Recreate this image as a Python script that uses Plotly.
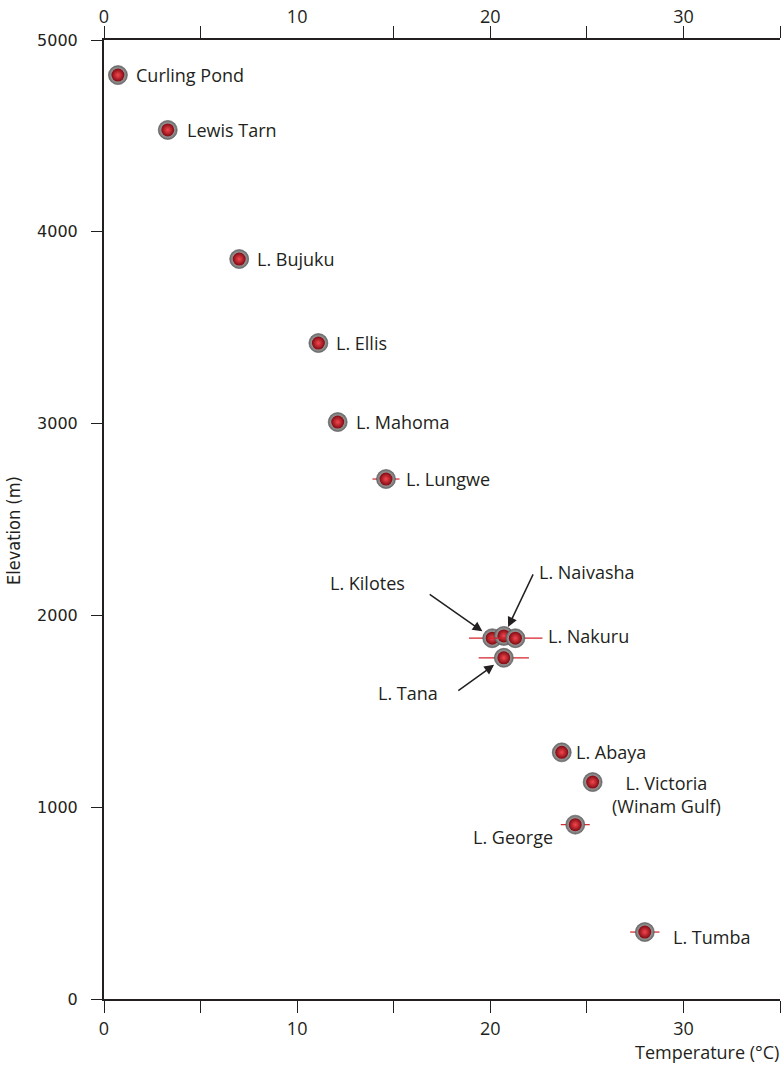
import plotly.graph_objects as go

# Lake surface temperature vs. elevation
lakes = ["Curling Pond", "Lewis Tarn", "L. Bujuku", "L. Ellis", "L. Mahoma",
         "L. Lungwe", "L. Kilotes", "L. Naivasha", "L. Nakuru", "L. Tana",
         "L. Abaya", "L. Victoria<br>(Winam Gulf)", "L. George", "L. Tumba"]
temperature = [0.72, 3.3, 7.0, 11.1, 12.1, 14.6, 20.1, 20.7, 21.3, 20.7,
               23.7, 25.3, 24.4, 28.0]
elevation = [4817, 4531, 3858, 3420, 3008, 2711, 1881, 1893, 1881, 1779,
             1286, 1131, 909, 349]
temp_err = [0, 0, 0, 0, 0, 0.7, 1.2, 0, 1.4, 1.3, 0, 0, 0.75, 0.76]

x_ticks = [0, 5, 10, 15, 20, 25, 30, 35]
x_labels = ["0", "", "10", "", "20", "", "30", ""]
top_label_ticks = [0, 10, 20, 30]
top_mark_ticks = [0, 5, 15, 20, 25, 30, 35]
y_ticks = [0, 1000, 2000, 3000, 4000, 5000]

INK = "#231f20"
RED_LINE = "#d2232a"
LABEL_FONT = dict(family="Open Sans, Noto Sans, sans-serif", size=18, color=INK)

# label placement relative to each dot: (dx px, dy px downward, anchor)
label_offsets = {
    "Curling Pond": (16, 0, "left"),
    "Lewis Tarn": (17, 0, "left"),
    "L. Bujuku": (16, 0, "left"),
    "L. Ellis": (16, 0, "left"),
    "L. Mahoma": (16, 0, "left"),
    "L. Lungwe": (18, 0, "left"),
    "L. Kilotes": (-85, -55, "right"),
    "L. Naivasha": (33, -64, "left"),
    "L. Nakuru": (31, -2, "left"),
    "L. Tana": (-64, 35, "right"),
    "L. Abaya": (12, 0, "left"),
    "L. Victoria<br>(Winam Gulf)": (74, 12, "center"),
    "L. George": (-20, 12, "right"),
    "L. Tumba": (26, 5, "left"),
}

# arrows pointing at the crowded points: (tail dx, tail dy, standoff)
arrows = {
    "L. Kilotes": (-64, -45, 12),
    "L. Naivasha": (30, -63, 10),
    "L. Tana": (-47, 34, 12),
}

fig = go.Figure()

for name, t, e, err in zip(lakes, temperature, elevation, temp_err):
    # silver ring with the error bar behind it
    fig.add_trace(go.Scatter(
        x=[t], y=[e], mode="markers", showlegend=False, hoverinfo="skip",
        error_x=dict(type="data", array=[err], visible=err > 0,
                     color=RED_LINE, thickness=1.2, width=0),
        marker=dict(size=19, color="#6a6a6a",
                    gradient=dict(type="radial", color="#ffffff"),
                    line=dict(width=0.6, color="#555555")),
    ))
    # red glossy core
    fig.add_trace(go.Scatter(
        x=[t], y=[e], mode="markers", showlegend=False, hoverinfo="skip",
        marker=dict(size=13, color="#800a12",
                    gradient=dict(type="radial", color="#f5474f"),
                    line=dict(width=0)),
    ))

annotations = []
for name, t, e in zip(lakes, temperature, elevation):
    dx, dy, anchor = label_offsets[name]
    annotations.append(dict(
        x=t, y=e, xref="x", yref="y", text=name, showarrow=False,
        xanchor=anchor, yanchor="middle", xshift=dx, yshift=-dy,
        align="center", font=LABEL_FONT,
    ))
    if name in arrows:
        ax, ay, so = arrows[name]
        annotations.append(dict(
            x=t, y=e, xref="x", yref="y", text="", showarrow=True,
            ax=ax, ay=ay, arrowhead=2, arrowsize=1.3, arrowwidth=1.5,
            arrowcolor=INK, standoff=so,
        ))

annotations.append(dict(
    x=1, y=0, xref="paper", yref="paper", text="Temperature (°C)",
    showarrow=False, xanchor="right", yanchor="bottom", yshift=-66,
    borderpad=0, font=LABEL_FONT,
))
annotations.append(dict(
    x=0, y=0.488, xref="paper", yref="paper", text="Elevation (m)",
    showarrow=False, textangle=-90, xanchor="center", yanchor="middle",
    xshift=-91,
    font=dict(family="DejaVu Sans Condensed, Roboto, sans-serif", size=18, color=INK),
))

# empty traces so the top axes get drawn
for ax_name in ("x2", "x3"):
    fig.add_trace(go.Scatter(x=[None], y=[None], xaxis=ax_name, yaxis="y",
                             showlegend=False, hoverinfo="skip"))

axis_common = dict(range=[0, 35], showgrid=False, zeroline=False)

fig.update_layout(
    width=781, height=1065,
    margin=dict(l=104, r=1, t=40, b=66),
    paper_bgcolor="white", plot_bgcolor="white",
    showlegend=False,
    annotations=annotations,
    xaxis=dict(**axis_common, tickmode="array", tickvals=x_ticks, ticktext=x_labels,
               ticks="outside", ticklen=12, tickwidth=1.2, tickcolor=INK,
               ticklabelstandoff=1,
               showline=True, linewidth=1.5, linecolor=INK,
               tickfont=dict(family="Open Sans, sans-serif", size=18, color=INK)),
    xaxis2=dict(**axis_common, overlaying="x", side="top", tickmode="array",
                tickvals=top_label_ticks, ticks="", ticklabelstandoff=12,
                showline=False,
                tickfont=dict(family="Open Sans, sans-serif", size=18, color=INK)),
    xaxis3=dict(**axis_common, overlaying="x", side="top", tickmode="array",
                tickvals=top_mark_ticks, showticklabels=False,
                ticks="outside", ticklen=12, tickwidth=1.2, tickcolor=INK,
                showline=True, linewidth=1.5, linecolor=INK),
    yaxis=dict(range=[0, 5000], showgrid=False, zeroline=False,
               tickmode="array", tickvals=y_ticks,
               ticks="outside", ticklen=11, tickwidth=1.2, tickcolor=INK,
               ticklabelstandoff=10,
               showline=True, linewidth=2, linecolor=INK,
               tickfont=dict(family="DejaVu Sans, sans-serif", size=16, color=INK)),
)

fig.write_html("out.html")
